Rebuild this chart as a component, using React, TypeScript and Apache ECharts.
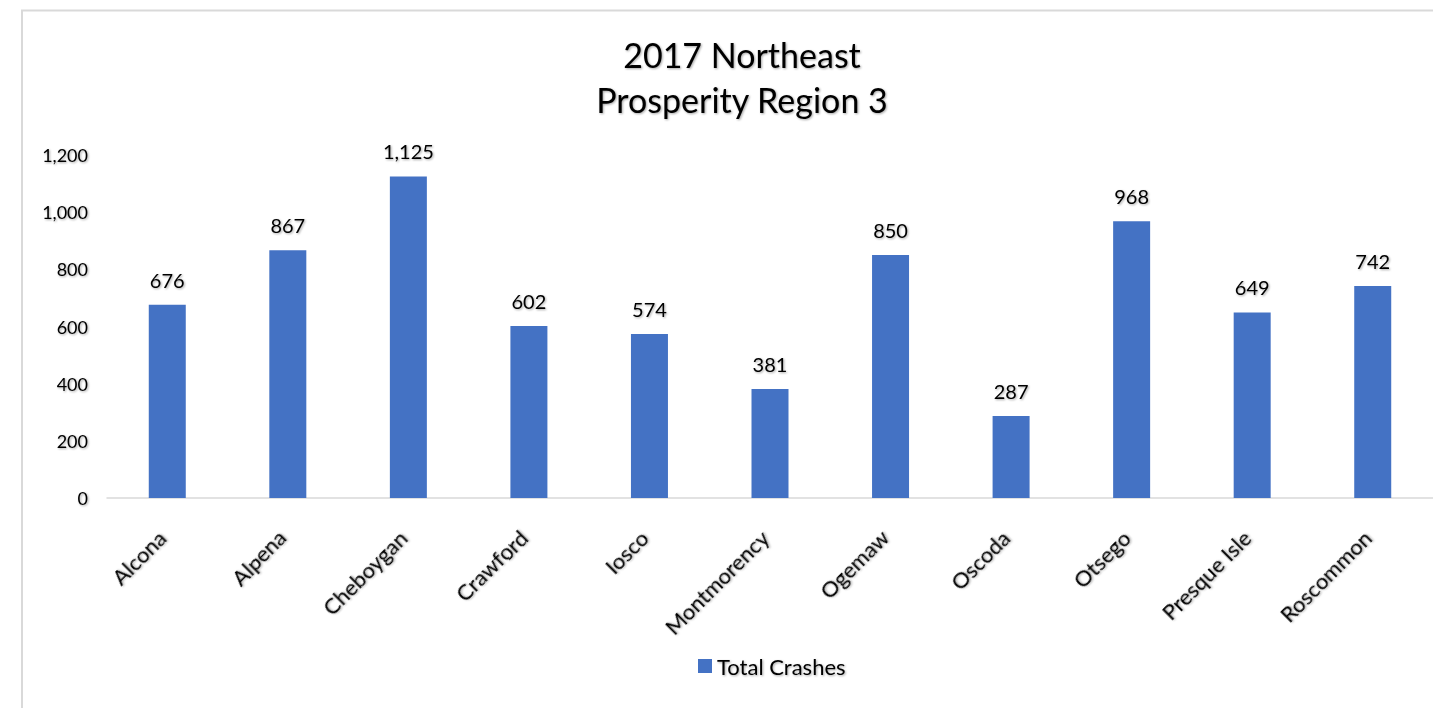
import React, { useEffect, useRef } from "react";
import * as echarts from "echarts";

const titleLines = ["2017 Northeast", "Prosperity Region 3"];
const categories = ["Alcona", "Alpena", "Cheboygan", "Crawford", "Iosco", "Montmorency", "Ogemaw", "Oscoda", "Otsego", "Presque Isle", "Roscommon"];
const totalCrashes = [676, 867, 1125, 602, 574, 381, 850, 287, 968, 649, 742];
const seriesName = "Total Crashes";

const FONT = "Lato, 'Open Sans', sans-serif";
const shadow = { textShadowColor: "rgba(0,0,0,0.35)", textShadowBlur: 2, textShadowOffsetX: 1, textShadowOffsetY: 1 };

export default function App() {
  const ref = useRef<HTMLDivElement>(null);
  useEffect(() => {
    if (!ref.current) return;
    const chart = echarts.init(ref.current, null, { renderer: "svg" });
    chart.setOption({
      animation: false,
      backgroundColor: "#ffffff",
      textStyle: { fontFamily: FONT },
      title: {
        text: titleLines.join("\n"),
        left: 737,
        textAlign: "center",
        top: 27,
        textStyle: { fontFamily: FONT, fontSize: 34, fontWeight: "normal", color: "#000", lineHeight: 45, ...shadow },
      },
      graphic: [
        {
          type: "polyline",
          shape: { points: [[22, 720], [22, 10.5], [1440, 10.5]] },
          style: { stroke: "#d9d9d9", lineWidth: 2, fill: "none" },
          silent: true,
        },
      ],
      legend: {
        data: [seriesName],
        left: 693,
        top: 650,
        itemWidth: 14,
        itemHeight: 14,
        icon: "rect",
        itemGap: 6,
        textStyle: { fontFamily: FONT, fontSize: 22, color: "#000", padding: [0, 0, 0, 0], ...shadow },
      },
      grid: { left: 107, right: 0, top: 155, bottom: 210, containLabel: false },
      xAxis: {
        type: "category",
        data: categories,
        axisLine: { lineStyle: { color: "#d9d9d9", width: 1.5 } },
        axisTick: { show: false },
        axisLabel: {
          rotate: 45,
          interval: 0,
          margin: 30,
          padding: [0, 8, 0, 0],
          fontFamily: FONT,
          fontSize: 22,
          color: "#000",
          ...shadow,
        },
      },
      yAxis: {
        type: "value",
        min: 0,
        max: 1200,
        interval: 200,
        splitLine: { show: false },
        axisLine: { show: false },
        axisTick: { show: false },
        axisLabel: {
          margin: 19,
          fontFamily: FONT,
          fontSize: 18,
          color: "#000",
          formatter: (v: number) => v.toLocaleString("en-US"),
          ...shadow,
        },
      },
      series: [
        {
          name: seriesName,
          type: "bar",
          data: totalCrashes,
          barWidth: 37,
          itemStyle: { color: "#4472c4" },
          label: {
            show: true,
            position: "top",
            distance: 15,
            fontFamily: FONT,
            fontSize: 20,
            color: "#000",
            formatter: (p: any) => Number(p.value).toLocaleString("en-US"),
            ...shadow,
          },
        },
      ],
    });
    return () => chart.dispose();
  }, []);
  return <div ref={ref} style={{ position: "fixed", left: 0, top: 0, width: 1433, height: 708 }} />;
}
